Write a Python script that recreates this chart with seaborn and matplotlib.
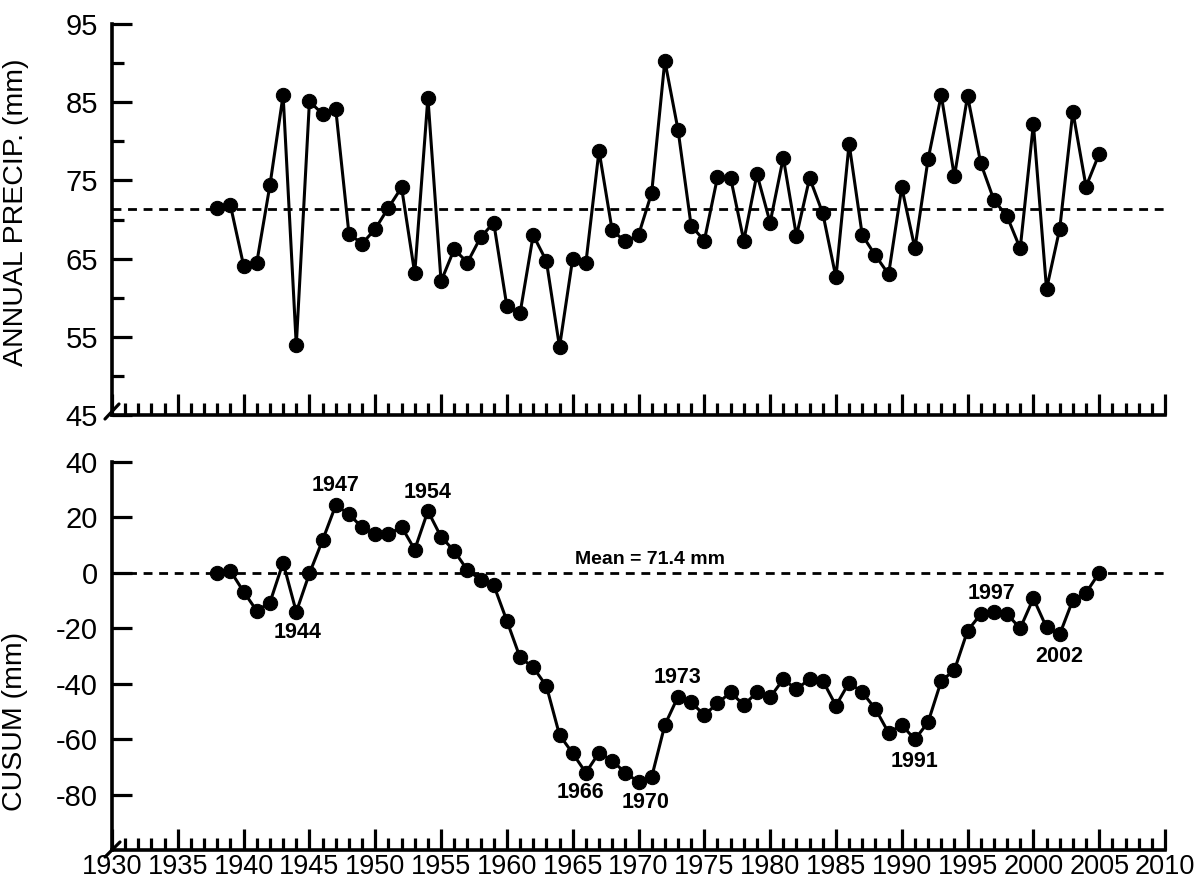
import numpy as np
import pandas as pd
import matplotlib
matplotlib.use("Agg")
import matplotlib.pyplot as plt
import seaborn as sns
from matplotlib.ticker import MultipleLocator, FixedLocator
from matplotlib.lines import Line2D

# ---------------- data ----------------
years = np.arange(1938, 2006)

precip = [71.5, 71.8,
          64.1, 64.5, 74.4, 85.9, 53.9, 85.1, 83.5, 84.1, 68.2, 66.9,
          68.8, 71.5, 74.1, 63.1, 85.6, 62.1, 66.2, 64.5, 67.7, 69.6,
          58.9, 58.0, 68.0, 64.7, 53.7, 65.0, 64.4, 78.8, 68.6, 67.2,
          68.0, 73.4, 90.3, 81.5, 69.2, 67.3, 75.4, 75.3, 67.3, 75.8,
          69.6, 77.9, 67.9, 75.3, 70.8, 62.6, 79.7, 68.0, 65.4, 63.0,
          74.1, 66.3, 77.7, 85.9, 75.5, 85.8, 77.2, 72.5, 70.4, 66.3,
          82.2, 61.1, 68.8, 83.8, 74.2, 78.4]

cusum = [0.1, 0.7,
         -6.8, -13.7, -10.7, 3.7, -14.1, -0.2, 11.8, 24.4, 21.2, 16.4,
         13.9, 13.9, 16.6, 8.4, 22.3, 13.0, 7.9, 1.0, -2.4, -4.4,
         -17.3, -30.5, -34.1, -40.8, -58.5, -65.1, -72.1, -64.9, -67.8, -72.1,
         -75.5, -73.7, -54.9, -44.7, -46.7, -51.3, -47.1, -43.1, -47.7, -43.1,
         -44.9, -38.4, -42.0, -38.3, -38.9, -47.9, -39.6, -43.1, -49.1, -57.7,
         -54.9, -60.1, -53.9, -39.0, -35.1, -20.9, -14.9, -14.1, -14.9, -20.0,
         -9.2, -19.7, -22.2, -9.8, -7.2, 0.0]

mean_precip = 71.4

top_yticks = [45, 55, 65, 75, 85, 95]
top_yminor = [50, 60, 70, 80, 90]
bot_yticks = [-80, -60, -40, -20, 0, 20, 40]
xticks = [1930, 1935, 1940, 1945, 1950, 1955, 1960, 1965, 1970, 1975,
          1980, 1985, 1990, 1995, 2000, 2005, 2010]

ann_labels = ["1947", "1954", "1944", "1966", "1970", "1973", "1991", "1997", "2002"]
ann_x = [1947.0, 1954.0, 1944.1, 1965.6, 1970.5, 1973.0, 1991.0, 1996.8, 2002.0]
ann_y = [31.6, 29.1, -21.7, -79.4, -83.0, -37.6, -68.2, -7.3, -30.0]

df_top = pd.DataFrame({"year": years, "precip": precip})
df_bot = pd.DataFrame({"year": years, "cusum": cusum})

# ---------------- style ----------------
sns.set_style("ticks")
plt.rcParams["font.family"] = ["Liberation Sans", "DejaVu Sans"]
plt.rcParams["text.color"] = "black"
plt.rcParams["axes.labelcolor"] = "black"
plt.rcParams["xtick.color"] = "black"
plt.rcParams["ytick.color"] = "black"
plt.rcParams["axes.edgecolor"] = "black"

W, H = 1197, 886
fig = plt.figure(figsize=(W / 100, H / 100), dpi=100)

left = 112 / W
width = 1053 / W
ax1 = fig.add_axes([left, 1 - 415 / H, width, 391 / H])
ax2 = fig.add_axes([left, 1 - 850 / H, width, 388 / H])

line_kw = dict(color="black", linewidth=2.2, marker="o", markersize=10.3,
               markeredgecolor="black", markerfacecolor="black")

sns.lineplot(data=df_top, x="year", y="precip", ax=ax1, **line_kw)
sns.lineplot(data=df_bot, x="year", y="cusum", ax=ax2, **line_kw)

ax1.plot([1930, 2010], [mean_precip, mean_precip], color="black",
         linewidth=2.0, linestyle=(0, (3.2, 2.4)), zorder=1)
ax2.plot([1930, 2010], [0, 0], color="black",
         linewidth=2.0, linestyle=(0, (3.2, 2.4)), zorder=1)

for ax in (ax1, ax2):
    ax.set_xlim(1930, 2010)
    for s in ("top", "right"):
        ax.spines[s].set_visible(False)
    for s in ("left", "bottom"):
        ax.spines[s].set_linewidth(2.6)
        ax.spines[s].set_color("black")
    ax.xaxis.set_major_locator(FixedLocator(xticks))
    ax.xaxis.set_minor_locator(MultipleLocator(1))
    ax.tick_params(axis="x", which="major", direction="in", length=15,
                   width=2.3, labelsize=19.5, pad=3, colors="black")
    ax.tick_params(axis="x", which="minor", direction="in", length=9,
                   width=2.3, colors="black")
    ax.tick_params(axis="y", which="major", direction="in", length=14.5,
                   width=2.3, labelsize=21, pad=10, colors="black")
    ax.tick_params(axis="y", which="minor", direction="in", length=8.5,
                   width=2.3, colors="black")
    ax.set_xlabel("")

# top panel
ax1.set_ylim(45, 95)
ax1.yaxis.set_major_locator(FixedLocator(top_yticks))
ax1.yaxis.set_minor_locator(FixedLocator(top_yminor))
ax1.set_yticklabels([str(v) for v in top_yticks])
ax1.tick_params(axis="x", labelbottom=False)
ax1.set_ylabel("ANNUAL PRECIP. (mm)", fontsize=20.5, color="black")
ax1.yaxis.set_label_coords((29 - 112) / 1053, (415 - 212) / 391)

# bottom panel
ax2.set_ylim(-100, 40)
ax2.yaxis.set_major_locator(FixedLocator(bot_yticks))
ax2.yaxis.set_minor_locator(FixedLocator([]))
ax2.set_yticklabels([str(v) for v in bot_yticks])
ax2.set_xticklabels([str(v) for v in xticks])
ax2.set_ylabel("CUSUM (mm)", fontsize=20.5, color="black")
ax2.yaxis.set_label_coords((28 - 112) / 1053, (850 - 721) / 388)

for t, x, y in zip(ann_labels, ann_x, ann_y):
    ax2.text(x, y, t, ha="center", va="center", fontsize=15.5,
             fontweight="bold", color="black")
ax2.text(1970.9, 4.9, "Mean = 71.4 mm", ha="center", va="center",
         fontsize=14, fontweight="bold", color="black")

# small diagonal strokes at the axis corners
for (x0, y0, x1, y1) in [(105, 419, 119, 404), (105, 857, 120, 842)]:
    fig.add_artist(Line2D([x0 / W, x1 / W], [1 - y0 / H, 1 - y1 / H],
                          transform=fig.transFigure, color="black",
                          linewidth=2.3, clip_on=False))

fig.savefig("out.png", dpi=100)
